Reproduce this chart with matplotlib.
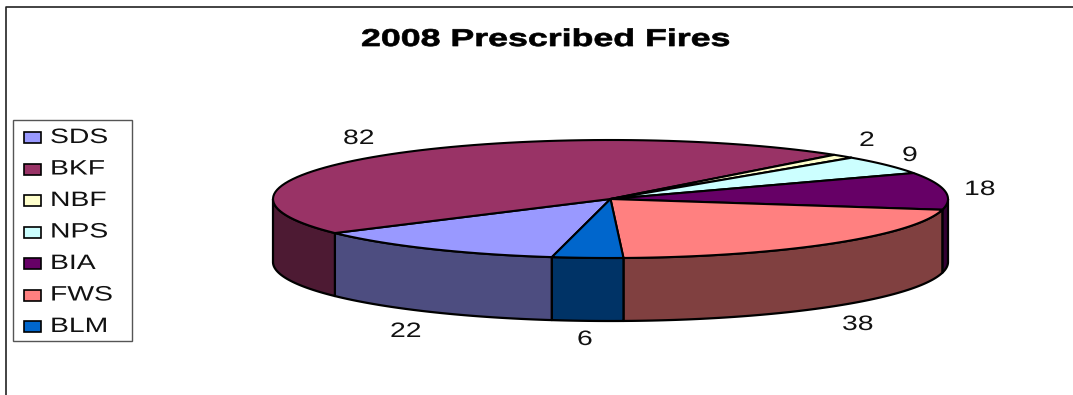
import numpy as np
import matplotlib
matplotlib.use("Agg")
import matplotlib.pyplot as plt
from matplotlib.patches import Rectangle
from matplotlib.patheffects import AbstractPathEffect
from matplotlib.transforms import Affine2D

plt.rcParams["font.family"] = ["Liberation Sans", "DejaVu Sans"]

# fires per agency, in drawing order
agencies = ["SDS", "BKF", "NBF", "NPS", "BIA", "FWS", "BLM"]
fires = [22, 82, 2, 9, 18, 38, 6]
top_colors = ["#9999FF", "#993366", "#FFFFCC", "#CCFFFF", "#660066", "#FF8080", "#0066CC"]
side_colors = ["#4D4D80", "#4D1A33", "#808066", "#668080", "#330033", "#804040", "#003366"]

title = "2008 Prescribed Fires"

# left edge and baseline of each value label
label_pos = [(390, 337), (343, 144), (859, 146), (902, 161), (964, 195), (842, 330), (577, 345)]

# pie geometry in pixels
cx, cy = 610.5, 199
rx, ry = 337.5, 59
depth = 63
start_angle = 350  # where the SDS slice begins, measured from the front


class StretchX(AbstractPathEffect):
    # widens glyphs about the text origin, with an optional outline to thicken them
    def __init__(self, sx, weight=0.0):
        super().__init__()
        self.sx = sx
        self.weight = weight

    def draw_path(self, renderer, gc, tpath, affine, rgbFace=None):
        gc0 = renderer.new_gc()
        gc0.copy_properties(gc)
        gc0.set_linewidth(self.weight)
        gc0.set_foreground(rgbFace)
        renderer.draw_path(gc0, tpath, Affine2D().scale(self.sx, 1) + affine, rgbFace)
        gc0.restore()


def rim(a0, a1, n=80):
    a = np.radians(np.linspace(a0, a1, n))
    return cx + rx * np.sin(a), cy + ry * np.cos(a)


fig = plt.figure(figsize=(10.73, 3.95), dpi=100)
ax = fig.add_axes([0, 0, 1, 1])
ax.set_xlim(0, 1073)
ax.set_ylim(395, 0)
ax.axis("off")

# outer frame, only the top and left edges are in view
ax.plot([6, 6, 1073], [395, 7, 7], color="#222222", lw=1.2)

ax.text(361, 46, title, ha="left", va="baseline", fontsize=17.5, fontweight="bold",
        path_effects=[StretchX(1.47, 0.5)])

# slices run clockwise on screen, so the angle goes down
sweeps = np.array(fires) / sum(fires) * 360
starts = start_angle - np.r_[0, np.cumsum(sweeps)[:-1]]
ends = starts - sweeps

# side wall first, only the part facing the viewer (angles -90..90)
for a0, a1, col in zip(starts, ends, side_colors):
    for shift in (-360, 0):
        hi = min(a0 + shift, 90)
        lo = max(a1 + shift, -90)
        if lo >= hi:
            continue
        x, y = rim(lo, hi)
        xs = np.concatenate([x, x[::-1]])
        ys = np.concatenate([y, y[::-1] + depth])
        ax.fill(xs, ys, facecolor=col, edgecolor="black", lw=1.6, joinstyle="round")

# top face
for a0, a1, col in zip(starts, ends, top_colors):
    x, y = rim(a0, a1)
    ax.fill(np.r_[cx, x], np.r_[cy, y], facecolor=col, edgecolor="black", lw=1.5, joinstyle="round")

for val, (lx, ly) in zip(fires, label_pos):
    ax.text(lx, ly, str(val), ha="left", va="baseline", fontsize=15, color="#111111",
            path_effects=[StretchX(1.36)])

# legend box
ax.add_patch(Rectangle((13, 120), 119, 221, facecolor="white", edgecolor="#555555", lw=1))
for i, (name, col) in enumerate(zip(agencies, top_colors)):
    ax.add_patch(Rectangle((24, 132 + i * 31.5), 16.5, 11, facecolor=col, edgecolor="black", lw=1.2))
    ax.text(50, 143 + i * 31.5, name, ha="left", va="baseline", fontsize=15, color="#111111",
            path_effects=[StretchX(1.36)])

fig.savefig("out.png", dpi=100)
